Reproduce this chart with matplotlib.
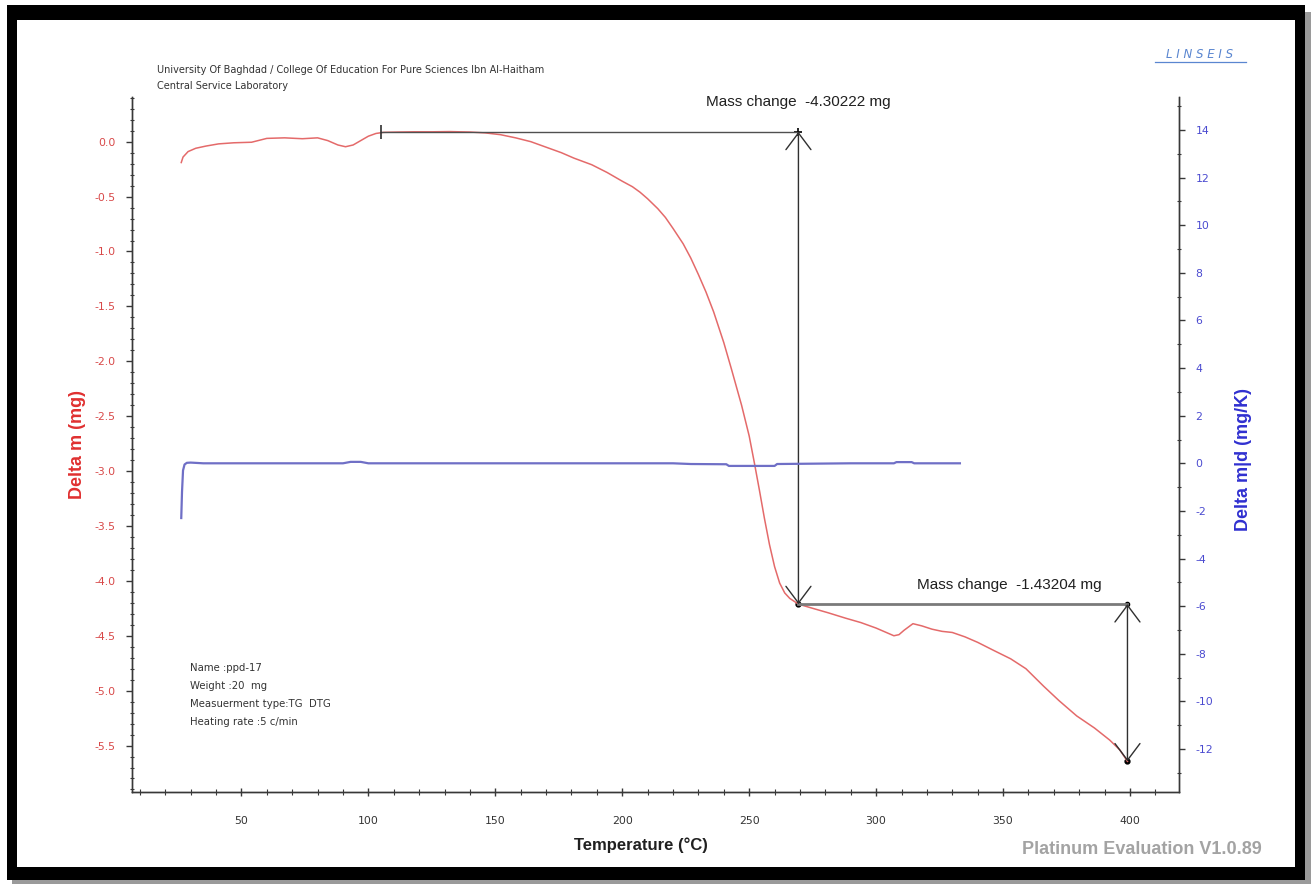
import matplotlib
matplotlib.use("Agg")
import matplotlib.pyplot as plt
from matplotlib.patches import Rectangle
from matplotlib.lines import Line2D
from matplotlib.ticker import MultipleLocator, FormatStrFormatter

plt.rcParams['axes.unicode_minus'] = False

# ---------------- data ----------------
tg_temp = [26.3, 27, 29, 32, 36, 41, 47, 54, 60, 67, 74, 80, 84, 88, 91, 94, 97, 100,
           103, 106, 112, 118, 125, 132, 140, 146, 152, 158, 164, 170, 176, 181, 188,
           194, 200, 204, 207, 210, 214, 217, 220, 224, 227, 230, 233, 236, 240, 243,
           247, 250, 252, 254, 256, 258, 260, 262, 264, 266, 269.4, 275, 281, 288, 294,
           300, 304, 307, 309, 311, 314.5, 318, 322, 326, 330, 335, 340, 346, 353, 359,
           366, 372, 379, 386, 392, 396, 399]
tg_mass = [-0.19, -0.14, -0.09, -0.06, -0.04, -0.02, -0.01, -0.005, 0.03, 0.035, 0.027,
           0.035, 0.01, -0.03, -0.046, -0.03, 0.01, 0.05, 0.075, 0.085, 0.088, 0.09, 0.09,
           0.092, 0.088, 0.08, 0.064, 0.035, 0.0, -0.05, -0.10, -0.15, -0.21, -0.28,
           -0.36, -0.41, -0.46, -0.52, -0.61, -0.69, -0.79, -0.93, -1.06, -1.21, -1.37,
           -1.55, -1.83, -2.07, -2.40, -2.68, -2.92, -3.17, -3.43, -3.67, -3.87, -4.02,
           -4.11, -4.16, -4.212, -4.25, -4.29, -4.34, -4.38, -4.43, -4.47, -4.50, -4.49,
           -4.45, -4.39, -4.41, -4.44, -4.46, -4.47, -4.51, -4.56, -4.63, -4.71, -4.80,
           -4.96, -5.09, -5.23, -5.34, -5.45, -5.54, -5.644]

dtg_temp = [26.3, 26.6, 27.0, 27.6, 28.5, 30, 35, 60, 90, 93, 97, 100, 130, 180, 220,
            227, 241, 242, 260, 261, 290, 307, 308, 314, 315, 333]
dtg_val = [-2.3, -1.2, -0.3, -0.05, 0.02, 0.03, 0.0, 0.0, 0.0, 0.06, 0.06, 0.0, 0.0, 0.0,
           0.0, -0.03, -0.04, -0.11, -0.11, -0.03, 0.0, 0.0, 0.05, 0.05, 0.0, 0.0]

step1_temp = [105, 269.4]
step1_mass = [0.09, -4.212]
step1_label = "Mass change  -4.30222 mg"
step2_temp = [269.4, 399]
step2_mass = [-4.212, -5.644]
step2_label = "Mass change  -1.43204 mg"

left_ticks = [0.0, -0.5, -1.0, -1.5, -2.0, -2.5, -3.0, -3.5, -4.0, -4.5, -5.0, -5.5]
right_ticks = [14, 12, 10, 8, 6, 4, 2, 0, -2, -4, -6, -8, -10, -12]
x_ticks = [50, 100, 150, 200, 250, 300, 350, 400]

header_lines = ["University Of Baghdad / College Of Education For Pure Sciences Ibn Al-Haitham",
                "Central Service Laboratory"]
info_lines = ["Name :ppd-17", "Weight :20  mg", "Measuerment type:TG  DTG",
              "Heating rate :5 c/min"]

# ---------------- figure ----------------
W, H = 1312, 884
fig = plt.figure(figsize=(W / 100, H / 100), dpi=100)
fig.patch.set_facecolor('white')


def fx(x):
    return x / W


def fy(y):
    return 1 - y / H


def frame_rect(x0, y0, x1, y1, color):
    fig.add_artist(Rectangle((fx(x0), fy(y1)), fx(x1) - fx(x0), fy(y0) - fy(y1),
                             transform=fig.transFigure, facecolor=color,
                             edgecolor='none', zorder=0))


# shadow then black frame
frame_rect(1305, 12, 1311, 884, '#9a9a9a')
frame_rect(12, 880, 1311, 884, '#9a9a9a')
frame_rect(7, 5, 1305, 20, 'black')
frame_rect(7, 867, 1305, 880, 'black')
frame_rect(7, 5, 17, 880, 'black')
frame_rect(1295, 5, 1305, 880, 'black')

ax_l, ax_r, ax_t, ax_b = 132, 1179, 97, 792
ax = fig.add_axes([fx(ax_l), fy(ax_b), fx(ax_r) - fx(ax_l), fy(ax_t) - fy(ax_b)])
ax2 = ax.twinx()

red = '#e46a6a'
blue = '#6f6fc6'
spine_c = '#383838'

ax.plot(tg_temp, tg_mass, color=red, lw=1.1, zorder=3)
ax2.plot(dtg_temp, dtg_val, color=blue, lw=1.6, zorder=3)

ax.set_xlim(6.9, 419.3)
ax.set_ylim(-5.923, 0.407)
ax2.set_ylim(-13.81, 15.39)

for a in (ax, ax2):
    a.spines['top'].set_visible(False)
    for s in ('left', 'right', 'bottom'):
        a.spines[s].set_color(spine_c)
        a.spines[s].set_linewidth(1.0)
    a.patch.set_visible(False)

ax.set_xticks(x_ticks)
ax.xaxis.set_minor_locator(MultipleLocator(10))
ax.set_yticks(left_ticks)
ax.yaxis.set_minor_locator(MultipleLocator(0.1))
ax.yaxis.set_major_formatter(FormatStrFormatter('%.1f'))
ax2.set_yticks(right_ticks)
ax2.yaxis.set_minor_locator(MultipleLocator(1))

ax.tick_params(axis='x', which='major', direction='inout', length=6, width=1,
               color=spine_c, labelcolor='#333333', labelsize=7.8, pad=14)
ax.tick_params(axis='x', which='minor', direction='inout', length=4, width=0.8, color=spine_c)
ax.tick_params(axis='y', which='major', direction='out', length=4, width=1,
               color=spine_c, labelcolor='#d84848', labelsize=7.8, pad=8)
ax.tick_params(axis='y', which='minor', direction='inout', length=3, width=0.8, color=spine_c)
ax2.tick_params(axis='y', which='major', direction='out', length=4, width=1,
                color=spine_c, labelcolor='#4a4ad0', labelsize=7.8, pad=8)
ax2.tick_params(axis='y', which='minor', direction='inout', length=3, width=0.8, color=spine_c)

ax.set_ylabel("Delta m (mg)", color='#e03030', fontsize=13, family='Liberation Sans',
              fontweight='bold')
ax.yaxis.set_label_coords(-0.044, 0.50)
ax2.set_ylabel("Delta m|d (mg/K)", color='#3030d0', fontsize=13, family='Liberation Sans',
               fontweight='bold', rotation=90)
ax2.yaxis.set_label_coords(1.0535, 0.478)
ax.set_xlabel("Temperature (°C)", color='#202020', fontsize=12, family='Liberation Sans',
              fontweight='bold')
ax.xaxis.set_label_coords(0.486, -0.066)

# ---------------- mass change annotations ----------------
dark = '#303030'
# step 1
ax.plot([step1_temp[0], step1_temp[1]], [step1_mass[0], step1_mass[0]],
        color='#505050', lw=1.0, zorder=4)
ax.plot([step1_temp[0]], [step1_mass[0]], marker='|', markersize=10, color=dark,
        mew=1.2, zorder=5)
ax.annotate("", xy=(step1_temp[1], step1_mass[0]), xytext=(step1_temp[1], step1_mass[1]),
            arrowprops=dict(arrowstyle='<->,head_length=1.2,head_width=0.9',
                            color=dark, lw=1.0, shrinkA=0, shrinkB=0), zorder=5)
ax.plot([step1_temp[1]], [step1_mass[0]], marker='+', markersize=6, color='black', mew=1.2)
ax.plot([step1_temp[1]], [step1_mass[1]], marker='o', markersize=3.5, color='black')
ax.text(step1_temp[1], step1_mass[0] + 0.27, step1_label, ha='center', va='center',
        fontsize=11, family='Liberation Sans', color='#202020')

# step 2
ax.plot([step2_temp[0], step2_temp[1]], [step2_mass[0], step2_mass[0]],
        color='#7a7a7a', lw=2.0, zorder=4)
ax.annotate("", xy=(step2_temp[1], step2_mass[0]), xytext=(step2_temp[1], step2_mass[1]),
            arrowprops=dict(arrowstyle='<->,head_length=1.2,head_width=0.9',
                            color=dark, lw=1.0, shrinkA=0, shrinkB=0), zorder=5)
ax.plot([step2_temp[1]], [step2_mass[0]], marker='o', markersize=3, color='black')
ax.plot([step2_temp[1]], [step2_mass[1]], marker='o', markersize=3.5, color='black')
ax.text(step2_temp[1] - 10, step2_mass[0] + 0.17, step2_label, ha='right', va='center',
        fontsize=11, family='Liberation Sans', color='#202020')

# ---------------- texts ----------------
fig.text(fx(157), fy(70), header_lines[0], fontsize=7, color='#333333',
         family='DejaVu Sans', va='center', ha='left')
fig.text(fx(157), fy(86), header_lines[1], fontsize=7, color='#333333',
         family='DejaVu Sans', va='center', ha='left')

for i, line in enumerate(info_lines):
    fig.text(fx(190), fy(668 + 18 * i), line, fontsize=7.3, color='#333333',
             family='DejaVu Sans', va='center', ha='left')

fig.text(fx(1200), fy(54), "L I N S E I S", fontsize=8.5, color='#5a86d0',
         style='italic', family='DejaVu Sans', ha='center', va='center')
fig.add_artist(Line2D([fx(1155), fx(1246)], [fy(62), fy(62)], color='#5a86d0', lw=0.9,
                      transform=fig.transFigure))

fig.text(fx(1262), fy(850), "Platinum Evaluation V1.0.89", fontsize=13, color='#a3a3a3',
         fontweight='bold', family='Liberation Sans', ha='right', va='center')

fig.savefig("out.png", dpi=100, facecolor='white')
